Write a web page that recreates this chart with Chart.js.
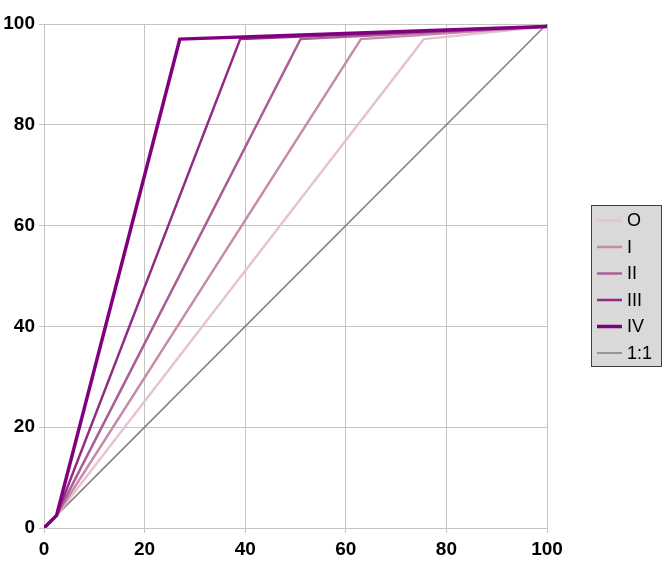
<!DOCTYPE html>
<html>
<head>
<meta charset="utf-8">
<script src="https://cdn.jsdelivr.net/npm/chart.js@4.4.1/dist/chart.umd.min.js"></script>
<style>
  html, body { margin: 0; padding: 0; background: #fff; }
  #wrap { width: 668px; height: 572px; }
</style>
</head>
<body>
<div id="wrap"><canvas id="chart" width="668" height="572"></canvas></div>
<script>
// series names
const seriesNames = ["O", "I", "II", "III", "IV", "1:1"];

// x / y of each series (start, kink, top, end)
const xO = [0, 2.5, 75.5, 100];
const yO = [0, 2.5, 97, 99.5];
const xI = [0, 2.5, 63, 100];
const yI = [0, 2.5, 97, 99.5];
const xII = [0, 2.5, 51, 100];
const yII = [0, 2.5, 97, 99.5];
const xIII = [0, 2.5, 39, 100];
const yIII = [0, 2.5, 97, 99.5];
const xIV = [0, 2.5, 27, 100];
const yIV = [0, 2.5, 97, 99.5];
const xRef = [2.5, 100];
const yRef = [2.5, 100];

const tickValues = [0, 20, 40, 60, 80, 100];

const colors = ["#e6c3d3", "#c78aab", "#ab5e95", "#922a83", "#800080", "#7f7f7f"];
const widths = [2.5, 2.5, 2.5, 2.5, 3.5, 1.5];

function pts(xs, ys) {
  return xs.map((x, i) => ({ x: x, y: ys[i] }));
}

const allX = [xO, xI, xII, xIII, xIV, xRef];
const allY = [yO, yI, yII, yIII, yIV, yRef];

const datasets = seriesNames.map((name, i) => ({
  label: name,
  data: pts(allX[i], allY[i]),
  borderColor: colors[i],
  backgroundColor: colors[i],
  borderWidth: widths[i],
  showLine: true,
  pointRadius: 0,
  tension: 0,
  order: i === 5 ? 10 : 5 - i
}));

// legend box drawn by hand so it can have the grey background
const boxLegend = {
  id: "boxLegend",
  afterDraw(chart) {
    const c = chart.ctx;
    const left = 591, top = 205, w = 71, h = 162;
    c.save();
    c.fillStyle = "#d9d9d9";
    c.fillRect(left, top, w, h);
    c.strokeStyle = "#404040";
    c.lineWidth = 1;
    c.strokeRect(left + 0.5, top + 0.5, w - 1, h - 1);
    c.font = "18px 'Liberation Sans', Arial, sans-serif";
    c.textBaseline = "middle";
    c.fillStyle = "#000";
    chart.data.datasets.forEach((ds, i) => {
      const y = top + 15.5 + i * 26.5;
      c.strokeStyle = ds.borderColor;
      c.lineWidth = ds.borderWidth;
      c.beginPath();
      c.moveTo(597, y);
      c.lineTo(622, y);
      c.stroke();
      c.fillText(ds.label, 627, y + 1);
    });
    c.restore();
  }
};

const tickFont = { family: "'Liberation Sans', Arial, sans-serif", size: 19, weight: "bold" };

new Chart(document.getElementById("chart"), {
  type: "scatter",
  data: { datasets: datasets },
  options: {
    responsive: false,
    animation: false,
    layout: { padding: { top: 24, right: 121, left: 0, bottom: 0 } },
    plugins: {
      legend: { display: false },
      tooltip: { enabled: false }
    },
    scales: {
      x: {
        min: 0,
        max: 100,
        afterBuildTicks: (s) => { s.ticks = tickValues.map(v => ({ value: v })); },
        afterFit: (s) => { s.height = 44; },
        grid: { color: "#c4c4c4", lineWidth: 1, drawTicks: true, tickLength: 5 },
        border: { color: "#c4c4c4" },
        ticks: { color: "#000", font: tickFont, padding: 5, maxRotation: 0 }
      },
      y: {
        min: 0,
        max: 100,
        afterBuildTicks: (s) => { s.ticks = tickValues.map(v => ({ value: v })); },
        afterFit: (s) => { s.width = 44; },
        grid: { color: "#c4c4c4", lineWidth: 1, drawTicks: true, tickLength: 5 },
        border: { color: "#c4c4c4" },
        ticks: { color: "#000", font: tickFont, padding: 4 }
      }
    }
  },
  plugins: [boxLegend]
});
</script>
</body>
</html>
